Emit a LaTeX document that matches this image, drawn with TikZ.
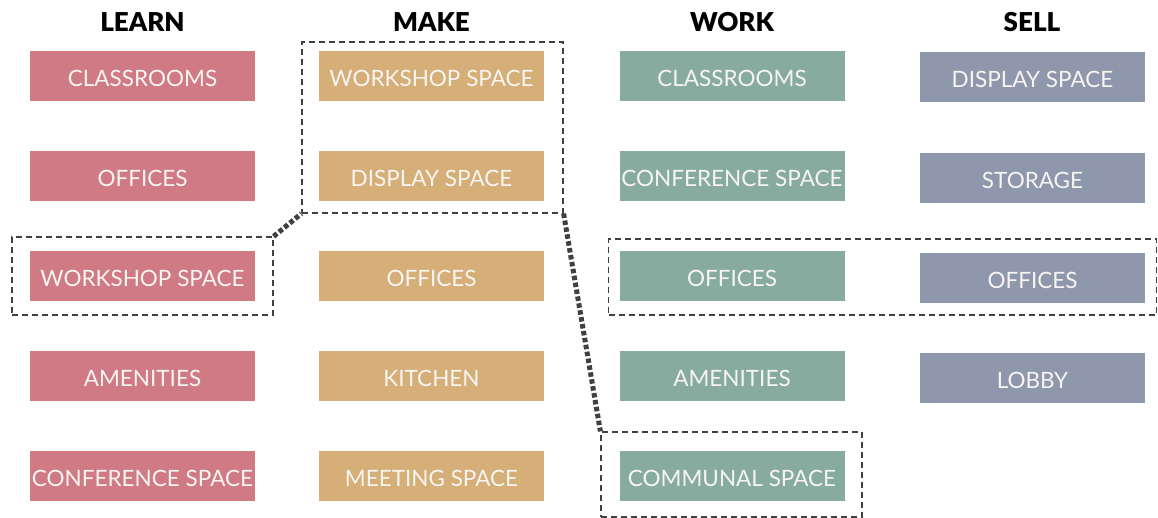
\documentclass[tikz,border=0pt]{standalone}
\usepackage{fontspec}
\newfontfamily\boxfont{Lato}
\newfontfamily\headfont{Lato Black}
\definecolor{learnc}{HTML}{D07A86}
\definecolor{makec}{HTML}{D5AE78}
\definecolor{workc}{HTML}{88AB9F}
\definecolor{sellc}{HTML}{8E97AC}
\definecolor{linec}{HTML}{404040}
\definecolor{textc}{HTML}{F7F5F2}
\tikzset{
  spacebox/.style={rectangle, minimum width=225pt, minimum height=50pt, inner sep=0pt,
    text height=21pt, text depth=0pt,
    text=textc, font=\boxfont\fontsize{22.5}{24}\selectfont},
  learnbox/.style={spacebox, fill=learnc},
  makebox/.style={spacebox, fill=makec},
  workbox/.style={spacebox, fill=workc},
  sellbox/.style={spacebox, fill=sellc},
  head/.style={font=\headfont\fontsize{26}{28}\selectfont, text=black, inner sep=0pt},
  grp/.style={rectangle, draw=linec, line width=1.2pt, dash pattern=on 6pt off 4pt, inner sep=0pt},
  link/.style={draw=linec, line width=5pt, dash pattern=on 4.5pt off 2.5pt}
}
\begin{document}
\begin{tikzpicture}[x=1pt,y=-1pt]
\useasboundingbox (0,0) rectangle (1158,518);
% headings
\node[head] (hL) at (142.5,22) {LEARN};
\node[head] (hM) at (431.5,22) {MAKE};
\node[head] (hW) at (732,22) {WORK};
\node[head] (hS) at (1032,22) {SELL};
% LEARN
\node[learnbox] (l1) at (142.5,76) {CLASSROOMS};
\node[learnbox] (l2) at (142.5,176) {OFFICES};
\node[learnbox] (l3) at (142.5,276) {WORKSHOP SPACE};
\node[learnbox] (l4) at (142.5,376) {AMENITIES};
\node[learnbox] (l5) at (142.5,476) {CONFERENCE SPACE};
% MAKE
\node[makebox] (m1) at (431.5,76) {WORKSHOP SPACE};
\node[makebox] (m2) at (431.5,176) {DISPLAY SPACE};
\node[makebox] (m3) at (431.5,276) {OFFICES};
\node[makebox] (m4) at (431.5,376) {KITCHEN};
\node[makebox] (m5) at (431.5,476) {MEETING SPACE};
% WORK
\node[workbox] (w1) at (732,76) {CLASSROOMS};
\node[workbox] (w2) at (732,176) {CONFERENCE SPACE};
\node[workbox] (w3) at (732,276) {OFFICES};
\node[workbox] (w4) at (732,376) {AMENITIES};
\node[workbox] (w5) at (732,476) {COMMUNAL SPACE};
% SELL
\node[sellbox] (s1) at (1032.5,77.5) {DISPLAY SPACE};
\node[sellbox] (s2) at (1032.5,178) {STORAGE};
\node[sellbox] (s3) at (1032.5,278) {OFFICES};
\node[sellbox] (s4) at (1032.5,378) {LOBBY};
% groups
\node[grp, minimum width=261pt, minimum height=78pt] (gL) at (142.5,276) {};
\node[grp, minimum width=261pt, minimum height=171pt] (gM) at (432.5,127.5) {};
\node[grp, minimum width=548pt, minimum height=76pt] (gO) at (882.5,277) {};
\node[grp, minimum width=261pt, minimum height=85pt] (gC) at (731.5,474.5) {};
% links
\draw[link] (gL.north east) -- (gM.south west);
\draw[link] (gM.south east) -- (gC.north west);
\end{tikzpicture}
\end{document}
